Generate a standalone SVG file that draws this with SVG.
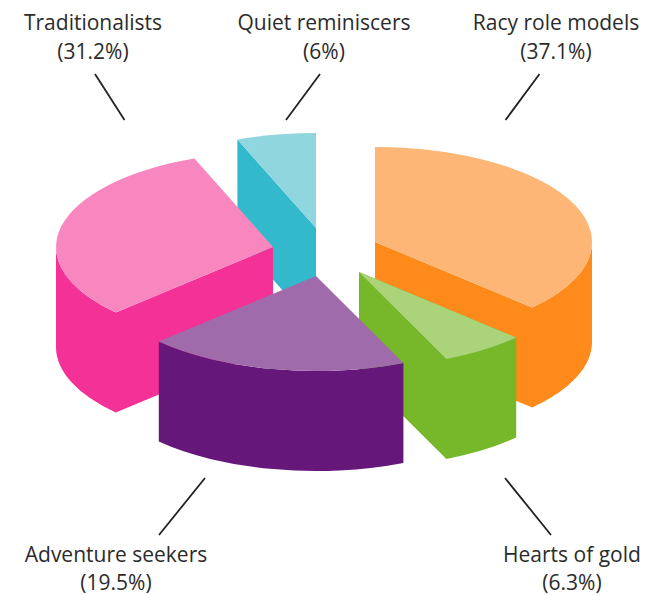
<svg xmlns="http://www.w3.org/2000/svg" width="659" height="595" viewBox="0 0 659 595">
<style>
.lbl{font-family:"Open Sans","Noto Sans","Liberation Sans",sans-serif;font-size:21px;fill:#2b2b2b;text-anchor:middle}
.lead{stroke:#222;stroke-width:1.8;fill:none}
.o1{fill:#FDB675}.o2{fill:#FD8A1B}
.g1{fill:#ABD47A}.g2{fill:#76B82A}
.p1{fill:#A06BAB}.p2{fill:#66187A}
.k1{fill:#F887C0}.k2{fill:#F33196}
.t1{fill:#90D6DF}.t2{fill:#33B9CC}
</style>
<rect width="659" height="595" fill="#fff"/>
<g id="quiet-reminiscers">
<path class="t2" d="M316,228 L237.4,139.5 L237.4,239.5 L316,328 Z"/>
<path class="t1" d="M316,228 L316,133 A217,95 0 0 0 237.4,139.5 Z"/>
</g>
<g id="traditionalists">
<path class="k2" d="M273,247 L115.8,312.5 A217,95 0 0 1 56,247 L56,347 A217,95 0 0 0 115.8,412.5 L273,347 Z"/>
<path class="k1" d="M273,247 L194.4,158.5 A217,95 0 0 0 115.8,312.5 Z"/>
</g>
<g id="racy-role-models">
<path class="o2" d="M375,242 L532.2,307.5 A217,95 0 0 0 592,242 L592,342 A217,95 0 0 1 532.2,407.5 L375,342 Z"/>
<path class="o1" d="M375,242 L375,147 A217,95 0 0 1 532.2,307.5 Z"/>
</g>
<g id="hearts-of-gold">
<path class="g2" d="M359,272 L359,372 L446.4,458.9 A217,95 0 0 0 516.2,437.5 L516.2,337.5 Z"/>
<path class="g1" d="M359,272 L516.2,337.5 A217,95 0 0 1 446.4,358.9 Z"/>
</g>
<g id="adventure-seekers">
<path class="p2" d="M403.4,362.9 A217,95 0 0 1 158.8,341.5 L158.8,441.5 A217,95 0 0 0 403.4,462.9 Z"/>
<path class="p1" d="M316,276 L403.4,362.9 A217,95 0 0 1 158.8,341.5 Z"/>
</g>
<g id="connectors">
<line class="lead" x1="95" y1="74" x2="124.5" y2="120"/>
<line class="lead" x1="320" y1="74" x2="286" y2="120"/>
<line class="lead" x1="539.5" y1="74" x2="505.5" y2="120"/>
<line class="lead" x1="205" y1="478" x2="159" y2="535"/>
<line class="lead" x1="505" y1="478" x2="551" y2="535"/>
</g>
<g id="labels">
<text class="lbl" x="93" y="30">Traditionalists</text>
<text class="lbl" x="93" y="59">(31.2%)</text>
<text class="lbl" x="324" y="30">Quiet reminiscers</text>
<text class="lbl" x="324" y="59">(6%)</text>
<text class="lbl" x="556" y="30">Racy role models</text>
<text class="lbl" x="556" y="59">(37.1%)</text>
<text class="lbl" x="116" y="562">Adventure seekers</text>
<text class="lbl" x="116" y="590">(19.5%)</text>
<text class="lbl" x="572" y="562">Hearts of gold</text>
<text class="lbl" x="572" y="590">(6.3%)</text>
</g>
</svg>
